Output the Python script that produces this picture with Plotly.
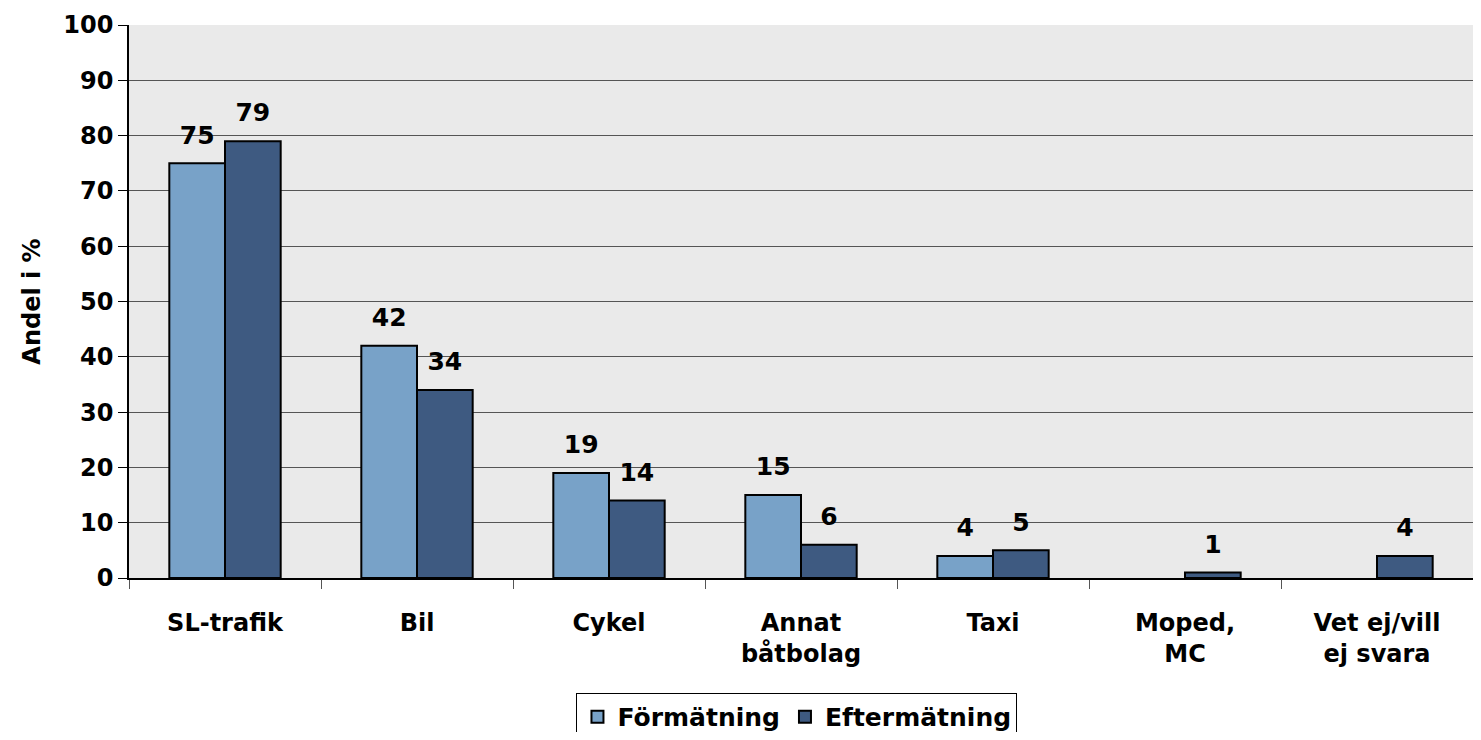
import plotly.graph_objects as go

categories = ["SL-trafik", "Bil", "Cykel", "Annat<br>båtbolag", "Taxi", "Moped,<br>MC", "Vet ej/vill<br>ej svara"]
formatning = [75, 42, 19, 15, 4, None, None]
eftermatning = [79, 34, 14, 6, 5, 1, 4]
y_ticks = list(range(0, 101, 10))

FONT = "DejaVu Sans, Arial, sans-serif"


def labels(values):
    return [f"<b>{v}</b>" if v is not None else "" for v in values]


fig = go.Figure()
fig.add_trace(go.Bar(
    x=categories, y=formatning, name="<b>Förmätning</b>",
    marker=dict(color="#78A2C8", line=dict(color="black", width=2)),
))
fig.add_trace(go.Bar(
    x=categories, y=eftermatning, name="<b>Eftermätning</b>",
    marker=dict(color="#3E5A81", line=dict(color="black", width=2)),
))

# value labels: grouped scatter text so they sit a bit higher above the bars
for vals in (formatning, eftermatning):
    fig.add_trace(go.Scatter(
        x=categories, y=vals, mode="markers+text",
        text=labels(vals), textposition="top center",
        textfont=dict(size=25, color="black", family=FONT),
        marker=dict(size=20, opacity=0),
        showlegend=False, hoverinfo="skip", cliponaxis=False,
    ))

fig.update_layout(
    width=1465, height=724,
    margin=dict(l=121, r=0, t=17, b=154),
    paper_bgcolor="white",
    plot_bgcolor="#EAEAEA",
    barmode="group",
    bargap=0.42,
    bargroupgap=0,
    scattermode="group",
    font=dict(family=FONT, color="black", size=24),
    legend=dict(
        orientation="h", x=0.497, xanchor="center",
        yref="container", y=0.054, yanchor="top",
        bordercolor="black", borderwidth=1, bgcolor="white",
        font=dict(size=25, family=FONT), itemsizing="constant",
        traceorder="normal",
    ),
)
fig.update_yaxes(
    range=[0, 100], tickvals=y_ticks, ticktext=[f"<b>{t}</b>" for t in y_ticks],
    showgrid=True, gridcolor="#555555", gridwidth=1,
    showline=True, linecolor="black", linewidth=1.5,
    ticks="outside", ticklen=9, tickcolor="black",
    tickfont=dict(size=24, family=FONT),
    title=dict(text="<b>Andel i %</b>", font=dict(size=24, family=FONT), standoff=16),
    zeroline=False, automargin=False,
)
fig.update_xaxes(
    ticktext=[f"<b>{c}</b>" for c in categories], tickvals=categories,
    showline=True, linecolor="black", linewidth=1.5,
    ticks="outside", ticklen=9, tickcolor="#555555", tickson="boundaries",
    tickfont=dict(size=24, family=FONT), ticklabelstandoff=22,
    automargin=False,
)

fig.write_html("out.html")
